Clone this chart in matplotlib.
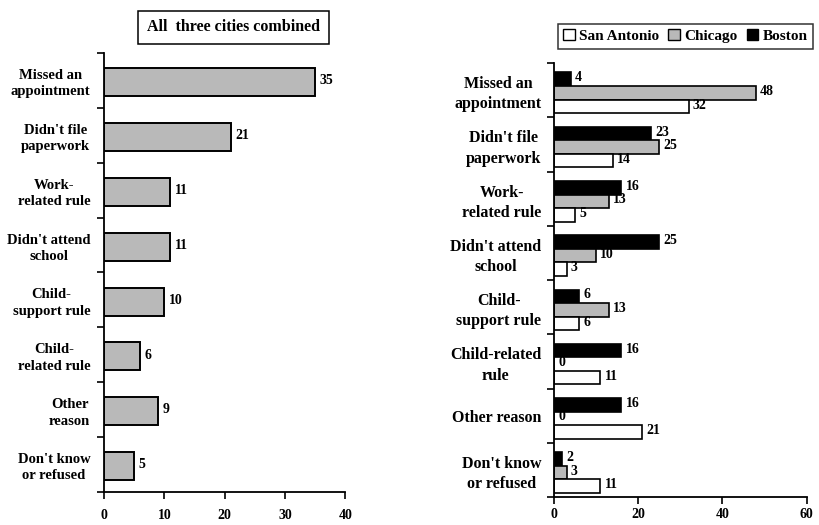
import matplotlib.pyplot as plt
from matplotlib.patches import Patch

# Reasons for sanction (percent of sanctioned families)
reasons_left = ["Missed an\nappointment", "Didn't file\npaperwork", "Work-\nrelated rule",
                "Didn't attend\nschool", "Child-\nsupport rule", "Child-\nrelated rule",
                "Other\nreason", "Don't know\nor refused"]
reasons_right = ["Missed an\nappointment", "Didn't file\npaperwork", "Work-\nrelated rule",
                 "Didn't attend\nschool", "Child-\nsupport rule", "Child-related\nrule",
                 "Other reason", "Don't know\nor refused"]
combined = [35, 21, 11, 11, 10, 6, 9, 5]
san_antonio = [32, 14, 5, 3, 6, 11, 21, 11]
chicago = [48, 25, 13, 10, 13, 0, 0, 3]
boston = [4, 23, 16, 25, 6, 16, 16, 2]

plt.rcParams['font.family'] = 'Liberation Serif'
plt.rcParams['font.weight'] = 'bold'

GRAY = '#b9b9b9'
fig = plt.figure(figsize=(8.2, 5.25), dpi=100)

def style_axis(ax, labels, fs, pad, xpad):
    n = len(labels)
    ax.set_ylim(n - 0.5, -0.5)
    ax.spines['top'].set_visible(False)
    ax.spines['right'].set_visible(False)
    ax.set_yticks([i - 0.5 for i in range(n + 1)])
    ax.set_yticklabels([])
    ax.set_yticks(range(n), minor=True)
    ax.set_yticklabels(labels, minor=True, fontsize=fs, fontweight='bold',
                       multialignment='center', linespacing=1.35)
    ax.tick_params(axis='y', which='major', length=5, direction='out', width=1.2)
    ax.tick_params(axis='y', which='minor', length=0, pad=pad)
    ax.tick_params(axis='x', length=5, width=1.2, labelsize=10, pad=xpad)
    for lab in ax.get_xticklabels():
        lab.set_fontweight('bold')
    for s in ('left', 'bottom'):
        ax.spines[s].set_linewidth(1.3)

# combined panel
ax1 = fig.add_axes([0.127, 0.063, 0.294, 0.836])
y = list(range(len(combined)))
bars = ax1.barh([v + 0.03 for v in y], combined, height=0.51, color=GRAY,
                edgecolor='black', linewidth=1.4)
for b, v in zip(bars, combined):
    ax1.text(b.get_width() + 0.7, b.get_y() + b.get_height() * 0.45, str(v),
             va='center', ha='left', fontsize=10, fontweight='bold')
ax1.set_xlim(0, 40)
ax1.set_xticks([0, 10, 20, 30, 40])
style_axis(ax1, reasons_left, 10.5, 10, 7)

fig.text(0.285, 0.948, "All  three cities combined", ha='center', va='center',
         fontsize=11.5, fontweight='bold',
         bbox=dict(boxstyle='square,pad=0.55', fc='white', ec='black', lw=1.1))

# city panel
ax2 = fig.add_axes([0.6756, 0.0533, 0.308, 0.8267])
h = 0.25
series = [(boston, 'black', -h), (chicago, GRAY, 0.0), (san_antonio, 'white', h)]
for vals, col, off in series:
    bs = ax2.barh([v + off + 0.05 for v in y], vals, height=h, color=col,
                  edgecolor='black', linewidth=1.2)
    for b, v in zip(bs, vals):
        ax2.text(b.get_width() + 1.0, b.get_y() + b.get_height() * 0.4, str(v),
                 va='center', ha='left', fontsize=10, fontweight='bold')
ax2.set_xlim(0, 60)
ax2.set_xticks([0, 20, 40, 60])
style_axis(ax2, reasons_right, 11.5, 9, 3)

handles = [Patch(fc='white', ec='black', label='San Antonio'),
           Patch(fc=GRAY, ec='black', label='Chicago'),
           Patch(fc='black', ec='black', label='Boston')]
leg = fig.legend(handles=handles, loc='center', bbox_to_anchor=(0.836, 0.931), ncol=3,
                 frameon=True, fancybox=False, edgecolor='black',
                 prop={'family': 'Liberation Serif', 'weight': 'bold', 'size': 11},
                 handlelength=0.75, handleheight=0.75, handletextpad=0.3,
                 columnspacing=0.6, borderpad=0.35, borderaxespad=0)
leg.get_frame().set_linewidth(1.1)

fig.savefig("out.png", dpi=100)
